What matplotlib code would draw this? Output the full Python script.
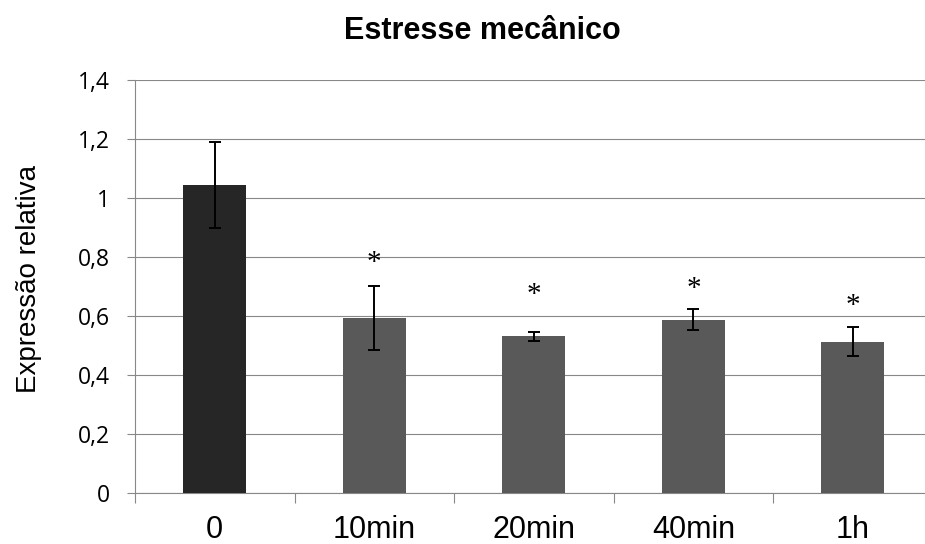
import matplotlib
matplotlib.use("Agg")
import matplotlib.pyplot as plt
from matplotlib.transforms import offset_copy

# ---------------------------------------------------------------------------
# Dados
# ---------------------------------------------------------------------------
categorias = ["0", "10min", "20min", "40min", "1h"]
media = [1.045, 0.593, 0.531, 0.587, 0.513]
erro = [0.145, 0.108, 0.015, 0.036, 0.050]
# altura (centro) dos asteriscos de significância; None = sem asterisco
asterisco_y = [None, 0.800, 0.694, 0.714, 0.654]
yticks = [0, 0.2, 0.4, 0.6, 0.8, 1.0, 1.2, 1.4]

cores = ["#262626", "#595959", "#595959", "#595959", "#595959"]
CINZA = "#888888"

# ---------------------------------------------------------------------------
# Figura
# ---------------------------------------------------------------------------
fig = plt.figure(figsize=(9.25, 5.44), dpi=100)
ax = fig.add_axes([135 / 925, 51 / 544, 797.75 / 925, 413 / 544])

x = list(range(len(categorias)))
ax.bar(x, media, width=0.395, color=cores, zorder=3)
ax.errorbar(x, media, yerr=erro, fmt="none", ecolor="black",
            elinewidth=1.4, capsize=4, capthick=1.4, zorder=4)

# asteriscos (serif, como no original)
trans = offset_copy(ax.transData, fig=fig, y=-9.6, units="points")
for xi, yi in zip(x, asterisco_y):
    if yi is None:
        continue
    ax.text(xi, yi, "*", transform=trans, ha="center", va="baseline",
            fontsize=21, family="Liberation Serif", color="black", zorder=5)

ax.set_xlim(-0.5, len(categorias) - 0.5)
ax.set_ylim(0, 1.4)

# eixo y
ax.set_yticks(yticks)
ax.set_yticklabels([f"{v:g}".replace(".", ",") for v in yticks])
ax.tick_params(axis="y", direction="out", length=6, width=0.8,
               color=CINZA, pad=12, labelsize=16.5,
               labelfontfamily="Open Sans")
ax.grid(axis="y", color=CINZA, linewidth=0.8, zorder=0)

# eixo x: marcas entre categorias, rótulos no centro
ax.set_xticks([i - 0.5 for i in range(len(categorias) + 1)])
ax.set_xticklabels([])
ax.tick_params(axis="x", which="major", direction="out", length=7,
               width=0.8, color=CINZA)
ax.set_xticks(x, minor=True)
ax.set_xticklabels(categorias, minor=True)
ax.tick_params(axis="x", which="minor", length=0, pad=16, labelsize=22,
               labelfontfamily="Liberation Sans")

for lado in ["top", "right"]:
    ax.spines[lado].set_visible(False)
for lado in ["left", "bottom"]:
    ax.spines[lado].set_color(CINZA)
    ax.spines[lado].set_linewidth(0.8)

ax.set_ylabel("Expressão relativa", family="Liberation Sans", fontsize=20)
ax.yaxis.set_label_coords(-0.117, 0.518)

fig.text(482 / 925, 1 - 39.3 / 544, "Estresse mecânico", ha="center",
         va="baseline", family="Liberation Sans", fontsize=22,
         fontweight="bold")

fig.savefig("out.png", dpi=100)
